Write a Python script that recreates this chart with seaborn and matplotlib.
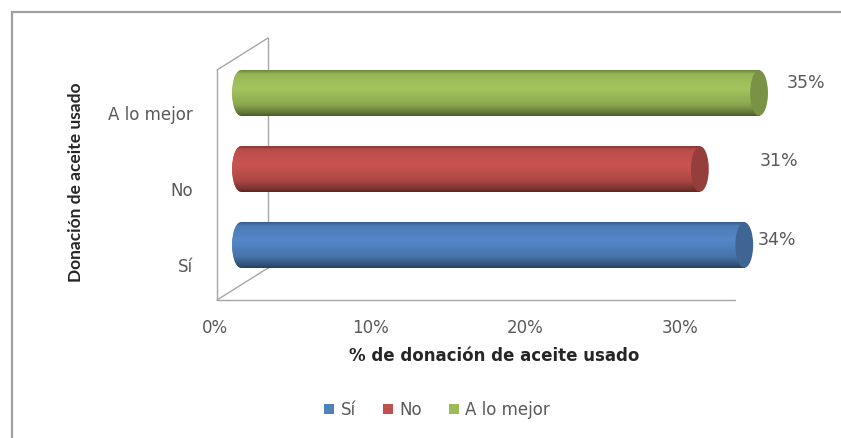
import numpy as np
import pandas as pd
import matplotlib
matplotlib.use("Agg")
import matplotlib.pyplot as plt
import seaborn as sns
from matplotlib.patches import Ellipse, Rectangle, Patch
from matplotlib.lines import Line2D
from matplotlib.colors import to_rgb
import matplotlib.transforms as mtransforms

# ---- data ----
categories = ["A lo mejor", "No", "Sí"]
values = [0.35, 0.31, 0.34]
value_labels = ["35%", "31%", "34%"]
legend_order = ["Sí", "No", "A lo mejor"]
palette = {"Sí": "#4F81BD", "No": "#C0504D", "A lo mejor": "#9BBB59"}
x_ticks = [0.0, 0.1, 0.2, 0.3]
x_tick_labels = ["0%", "10%", "20%", "30%"]
title_x = "% de donación de aceite usado"
title_y = "Donación de aceite usado"

df = pd.DataFrame({"cat": categories, "val": values})

sns.set_theme(style="white")
plt.rcParams["font.family"] = ["DejaVu Sans"]

W, H = 841, 438
fig = plt.figure(figsize=(W / 100, H / 100), dpi=100)
fig.patch.set_facecolor("white")

def fx(px):
    return px / W

def fy(py):
    return 1 - py / H

# axes placement (pixels): left 215, right 773, top 55, bottom 283
ax = fig.add_axes([fx(215), fy(283), fx(773) - fx(215), fy(55) - fy(283)])
ax.set_facecolor("none")

sns.barplot(data=df, y="cat", x="val", hue="cat", order=categories,
            hue_order=categories, palette=palette, orient="h", width=0.6,
            dodge=False, legend=False, ax=ax, saturation=1)

ax.set_xlim(0, 0.36)
ax.set_ylim(2.5, -0.5)

# perspective of the bars (3D look): slightly shorter scale, shifted right
depth = (mtransforms.Affine2D().scale(0.955, 1) + ax.transData +
         mtransforms.ScaledTranslation(26 / 100, 0, fig.dpi_scale_trans))

# cylinder shading
prof_t = [0.0, 0.08, 0.4, 0.75, 0.92, 1.0]
prof_v = [0.72, 0.97, 1.05, 0.9, 0.66, 0.5]
t = np.linspace(0, 1, 64)
prof = np.interp(t, prof_t, prof_v)
cap_w = 0.012
for patch, cat in zip(list(ax.patches), categories):
    x0, y0 = patch.get_x(), patch.get_y()
    w, h = patch.get_width(), patch.get_height()
    base = np.array(to_rgb(palette[cat]))
    patch.set_transform(depth)
    patch.set_edgecolor("none")
    patch.set_clip_on(False)
    grad = np.clip(prof[:, None, None] * base[None, None, :], 0, 1)
    im = ax.imshow(grad, extent=[x0, x0 + w, y0 + h, y0], aspect="auto",
                   zorder=2, interpolation="bilinear")
    im.set_transform(depth)
    im.set_clip_path(patch)
    # left rounded cap with the same shading
    lcap = Ellipse((x0, y0 + h / 2), width=cap_w, height=h,
                   facecolor=base, edgecolor="none",
                   zorder=1, clip_on=False, transform=depth)
    ax.add_patch(lcap)
    im2 = ax.imshow(grad, extent=[x0 - cap_w / 2, x0 + cap_w / 2, y0 + h, y0],
                    aspect="auto", zorder=1.5, interpolation="bilinear")
    im2.set_transform(depth)
    im2.set_clip_path(lcap)
    # end cap
    cap = Ellipse((x0 + w, y0 + h / 2), width=cap_w, height=h,
                  facecolor=np.clip(base * 0.78, 0, 1), edgecolor="none",
                  zorder=3, transform=depth, clip_on=False)
    ax.add_patch(cap)

ax.set_xlim(0, 0.36)
ax.set_ylim(2.5, -0.5)

# value labels
label_offsets = [(21, 7), (46, 6), (11.5, 3.5)]
for i, (v, lab) in enumerate(zip(values, value_labels)):
    ax.annotate(lab, xy=(v, i), xytext=label_offsets[i], textcoords="offset points",
                ha="left", va="center", fontsize=12.5, color="#595959")

ax.set_xticks(x_ticks)
ax.set_xticklabels(x_tick_labels, fontsize=12, color="#595959")
ax.tick_params(axis="x", length=0, pad=26)
ax.tick_params(axis="y", length=0, pad=16)
for lab in ax.get_yticklabels():
    lab.set_fontsize(12)
    lab.set_color("#595959")
    lab.set_transform(lab.get_transform() +
                      mtransforms.ScaledTranslation(0, -20 / 100, fig.dpi_scale_trans))
ax.set_xlabel(title_x, fontsize=12, fontweight="bold", color="#262626", labelpad=7)
ax.set_ylabel("")
fig.text(fx(76), fy(182), title_y, rotation=90, ha="center", va="center",
         fontsize=12.5, fontweight="bold", color="#262626", family=["Lato", "DejaVu Sans"])
for s in ax.spines.values():
    s.set_visible(False)

# 3D walls (decoration)
wall_color = "#a6a6a6"
segs = [
    [(268, 38), (268, 268)],
    [(268, 38), (217, 70)],
    [(217, 70), (217, 300)],
    [(217, 300), (268, 268)],
    [(217, 300), (735, 300)],
]
for (a, b) in segs:
    fig.add_artist(Line2D([fx(a[0]), fx(b[0])], [fy(a[1]), fy(b[1])],
                          color=wall_color, lw=1.0, zorder=-1))

# outer frame
fig.add_artist(Rectangle((fx(12), fy(445)), fx(845) - fx(12), fy(12) - fy(445),
                         fill=False, edgecolor="#a0a0a0", lw=1.6, zorder=-2))

# legend
handles = [Patch(facecolor=palette[c], edgecolor="none") for c in legend_order]
fig.legend(handles, legend_order, loc="center", bbox_to_anchor=(fx(437), fy(410)),
           ncol=3, frameon=False, fontsize=12, handlelength=0.6, handleheight=0.6,
           handletextpad=0.4, columnspacing=1.6, labelcolor="#595959")

fig.savefig("out.png", dpi=100)
